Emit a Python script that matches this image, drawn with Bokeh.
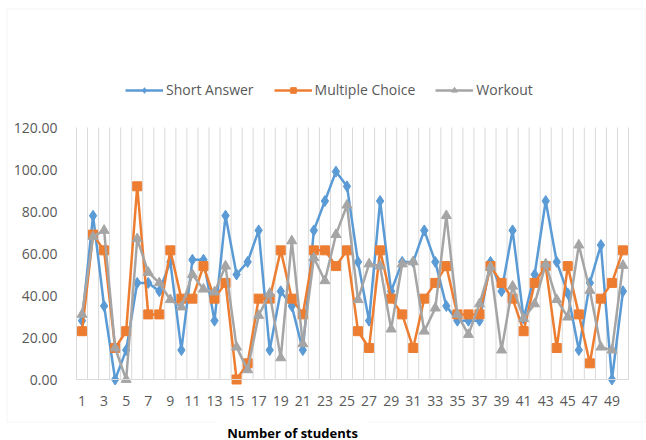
from bokeh.plotting import figure
from bokeh.models import FixedTicker, Legend, LegendItem, Label, PolyAnnotation, NumeralTickFormatter
from bokeh.embed import file_html
from bokeh.resources import INLINE

students = list(range(1, 51))
x_tick_labels = students[::2]
y_ticks = [0, 20, 40, 60, 80, 100, 120]

short_answer = [28, 78, 35, 0, 14, 46, 46, 42, 56, 14,
                57, 57, 28, 78, 50, 56, 71, 14, 42, 35,
                14, 71, 85, 99, 92, 56, 28, 85, 42, 56,
                56, 71, 56, 35, 28, 28, 28, 56, 42, 71,
                29, 50, 85, 56, 41, 14, 46, 64, 0, 42]
multiple_choice = [23, 69, 61.5, 15, 23, 92, 31, 31, 61.5, 38.5,
                   38.5, 54, 38.5, 46, 0, 7.7, 38.5, 38.5, 61.5, 38.5,
                   31, 61.5, 61.5, 54, 61.5, 23, 15, 61.5, 38.5, 31,
                   15, 38.5, 46, 54, 31, 31, 31, 54, 46, 38.5,
                   23, 46, 54, 15, 54, 31, 7.7, 38.5, 46, 61.5]
workout = [31, 68, 71, 15, 0, 67, 51, 46, 38, 34.5,
           50, 43, 41.6, 54, 15.4, 4.6, 30.5, 41, 10.3, 66,
           17, 58, 47, 69, 83, 38, 55, 54, 24, 55,
           56, 23, 34, 78, 31, 21.4, 36, 53.5, 14, 44.4,
           29, 36, 55, 38, 29.7, 64, 42.4, 15.4, 14, 54.3]

series = [
    ("Short Answer", short_answer, "#5B9BD5", "diamond", 11),
    ("Multiple Choice", multiple_choice, "#ED7D31", "square", 9),
    ("Workout", workout, "#A5A5A5", "triangle", 10),
]

FONT = "Open Sans"
GRID = "#d9d9d9"
TXT = "#595959"

# layout (pixels): plot area 76..628 x 127..379 inside a 646x440 canvas
W, H = 646, 440
PL, PR, PT, PB = 76, 628, 127, 379
x_lo, x_hi = students[0] - 0.5, students[-1] + 0.5
y_lo, y_hi = y_ticks[0], y_ticks[-1]
kx = (PR - PL) / (x_hi - x_lo)
ky = (PB - PT) / (y_hi - y_lo)
x_range = (x_lo - PL / kx, x_hi + (W - PR) / kx)
y_range = (y_lo - (H - PB) / ky, y_hi + PT / ky)

p = figure(width=W, height=H, output_backend="svg", toolbar_location=None,
           x_range=x_range, y_range=y_range,
           min_border=0)
p.outline_line_color = None
p.background_fill_color = "white"
p.border_fill_color = "white"
p.grid.grid_line_color = None

# vertical category gridlines between students
bounds = [s - 0.5 for s in students] + [students[-1] + 0.5]
p.segment(x0=bounds, y0=[y_lo] * len(bounds), x1=bounds, y1=[y_hi] * len(bounds),
          line_color=GRID, line_width=1)

p.yaxis.fixed_location = x_lo
p.yaxis.ticker = FixedTicker(ticks=y_ticks)
p.yaxis.formatter = NumeralTickFormatter(format="0.00")
p.yaxis.axis_line_color = None
p.yaxis.major_tick_line_color = None
p.yaxis.minor_tick_line_color = None
p.yaxis.major_label_standoff = 13
p.yaxis.major_label_text_font = FONT
p.yaxis.major_label_text_font_size = "14px"
p.yaxis.major_label_text_color = TXT

p.xaxis.fixed_location = y_lo
p.xaxis.bounds = (x_lo, x_hi)
p.xaxis.ticker = FixedTicker(ticks=x_tick_labels)
p.xaxis.axis_line_color = GRID
p.xaxis.major_tick_line_color = None
p.xaxis.minor_tick_line_color = None
p.xaxis.major_label_standoff = 10
p.xaxis.major_label_text_font = FONT
p.xaxis.major_label_text_font_size = "14px"
p.xaxis.major_label_text_color = TXT

items = []
for name, vals, color, marker, size in series:
    l = p.line(students, vals, line_color=color, line_width=2.5)
    s = p.scatter(students, vals, marker=marker, size=size, fill_color=color, line_color=color)
    items.append(LegendItem(label=name, renderers=[l, s]))

legend = Legend(items=items, orientation="horizontal", location=(125, H - 99),
                padding=0, margin=0, spacing=20, glyph_width=38, glyph_height=14,
                label_standoff=3, label_text_font=FONT, label_text_font_size="14px",
                label_text_color=TXT, border_line_color=None, background_fill_alpha=0)
p.add_layout(legend, "center")

border = PolyAnnotation(xs=[6.5, 644.5, 644.5, 6.5], ys=[H - 8.5, H - 8.5, H - 421.5, H - 421.5],
                        xs_units="screen", ys_units="screen", fill_alpha=0,
                        line_color=GRID, line_width=1)
p.add_layout(border)

title = Label(x=292, y=H - 432, x_units="screen", y_units="screen", text="Number of students",
              text_font=FONT, text_font_style="bold", text_font_size="13px", text_color="black",
              text_align="center", text_baseline="middle", background_fill_color="white",
              padding=10)
p.add_layout(title)

open("out.html", "w").write(file_html(p, INLINE))
